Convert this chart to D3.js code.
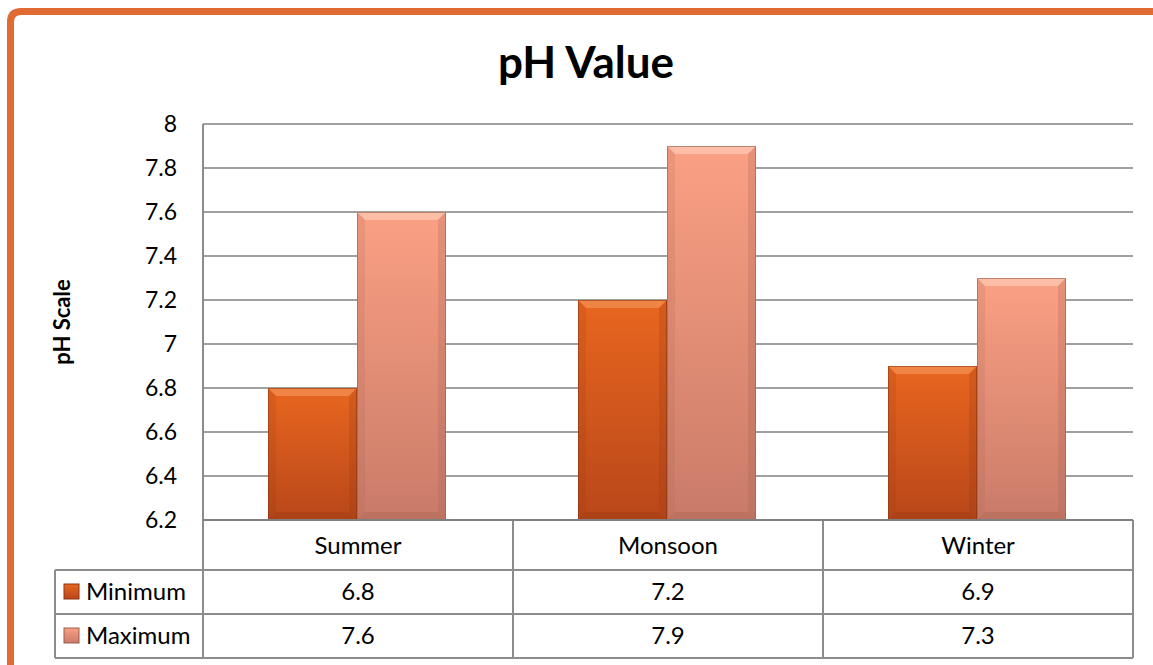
<!DOCTYPE html>
<html>
<head>
<meta charset="utf-8">
<script src="https://cdn.jsdelivr.net/npm/d3@7"></script>
<style>
  body { margin: 0; background: #fff; }
  svg { display: block; font-family: Lato, "Open Sans", sans-serif; }
</style>
</head>
<body>
<svg id="chart" width="1153" height="665"></svg>
<script>
// data
var categories = ["Summer", "Monsoon", "Winter"];
var seriesNames = ["Minimum", "Maximum"];
var minimumValues = [6.8, 7.2, 6.9];
var maximumValues = [7.6, 7.9, 7.3];
var yTicks = [6.2, 6.4, 6.6, 6.8, 7, 7.2, 7.4, 7.6, 7.8, 8];

var values = [minimumValues, maximumValues];

var svg = d3.select("#chart");
var plot = {left: 203, right: 1133, top: 124, bottom: 520};
var rowY = [520, 570, 614, 658];   // table row lines
var tableLeft = 55;

// gradients for the bevelled bars
var defs = svg.append("defs");
var palette = [
  {id: "gMin", top: "#e8661f", bottom: "#b9471a", light: "#f59a5e", dark: "#8f3512"},
  {id: "gMax", top: "#fba084", bottom: "#c97b68", light: "#ffd2c0", dark: "#9c5c4c"}
];
palette.forEach(function(p) {
  var g = defs.append("linearGradient").attr("id", p.id)
    .attr("x1", 0).attr("y1", 0).attr("x2", 0).attr("y2", 1);
  g.append("stop").attr("offset", "0%").attr("stop-color", p.top);
  g.append("stop").attr("offset", "100%").attr("stop-color", p.bottom);
});

// orange frame
svg.append("path")
  .attr("d", "M10.5,665 L10.5,22 Q10.5,11.5 21,11.5 L1153,11.5")
  .attr("fill", "none").attr("stroke", "#e06b35").attr("stroke-width", 7);

// scales
var x0 = d3.scaleBand().domain(categories).range([plot.left, plot.right]);
var x1 = d3.scaleBand().domain(seriesNames).range([65, 243]);
var y = d3.scaleLinear().domain([6.2, 8]).range([plot.bottom, plot.top]);

// gridlines
svg.append("g").selectAll("line").data(yTicks).enter().append("line")
  .attr("x1", plot.left).attr("x2", plot.right)
  .attr("y1", function(d) { return y(d); }).attr("y2", function(d) { return y(d); })
  .attr("stroke", "#a0a0a0").attr("stroke-width", 2);

// y axis
var yAxis = svg.append("g")
  .attr("transform", "translate(" + plot.left + ",0)")
  .call(d3.axisLeft(y).tickValues(yTicks).tickFormat(d3.format("")).tickSize(0).tickPadding(26));
yAxis.select(".domain").remove();
yAxis.selectAll("text").attr("font-size", 23).attr("fill", "#000")
  .attr("font-family", "Lato, 'Open Sans', sans-serif");

// bars
var bev = 8;
var groups = svg.append("g").selectAll("g").data(categories).enter().append("g")
  .attr("transform", function(d) { return "translate(" + x0(d) + ",0)"; });

groups.each(function(cat, ci) {
  var g = d3.select(this);
  seriesNames.forEach(function(s, si) {
    var p = palette[si];
    var bx = x1(s), bw = x1.bandwidth();
    var by = y(values[si][ci]), bh = plot.bottom - by;
    g.append("rect").attr("x", bx).attr("y", by).attr("width", bw).attr("height", bh)
      .attr("fill", "url(#" + p.id + ")");
    // top bevel
    g.append("path")
      .attr("d", "M" + bx + "," + by + "L" + (bx + bw) + "," + by + "L" + (bx + bw - bev) + "," + (by + bev) + "L" + (bx + bev) + "," + (by + bev) + "Z")
      .attr("fill", p.light).attr("opacity", 0.6);
    // sides
    g.append("path")
      .attr("d", "M" + bx + "," + by + "L" + (bx + bev) + "," + (by + bev) + "L" + (bx + bev) + "," + (by + bh - bev) + "L" + bx + "," + (by + bh) + "Z")
      .attr("fill", p.dark).attr("opacity", 0.15);
    g.append("path")
      .attr("d", "M" + (bx + bw) + "," + by + "L" + (bx + bw - bev) + "," + (by + bev) + "L" + (bx + bw - bev) + "," + (by + bh - bev) + "L" + (bx + bw) + "," + (by + bh) + "Z")
      .attr("fill", p.dark).attr("opacity", 0.22);
    // bottom bevel
    g.append("path")
      .attr("d", "M" + bx + "," + (by + bh) + "L" + (bx + bev) + "," + (by + bh - bev) + "L" + (bx + bw - bev) + "," + (by + bh - bev) + "L" + (bx + bw) + "," + (by + bh) + "Z")
      .attr("fill", p.dark).attr("opacity", 0.3);
    g.append("rect").attr("x", bx + 0.5).attr("y", by + 0.5).attr("width", bw - 1).attr("height", bh - 1)
      .attr("fill", "none").attr("stroke", p.dark).attr("stroke-width", 1).attr("opacity", 0.6);
  });
});

// data table
var table = svg.append("g").attr("stroke", "#8c8c8c").attr("stroke-width", 2);
table.append("line").attr("x1", plot.left).attr("x2", plot.left).attr("y1", plot.top).attr("y2", rowY[3]);
categories.forEach(function(c) {
  var xe = x0(c) + x0.bandwidth();
  table.append("line").attr("x1", xe).attr("x2", xe).attr("y1", rowY[0]).attr("y2", rowY[3]);
});
table.append("line").attr("x1", tableLeft).attr("x2", tableLeft).attr("y1", rowY[1]).attr("y2", rowY[3]);
table.append("line").attr("x1", plot.left).attr("x2", plot.right).attr("y1", rowY[0]).attr("y2", rowY[0]).attr("stroke", "#808080");
[1, 2, 3].forEach(function(r) {
  table.append("line").attr("x1", tableLeft).attr("x2", plot.right).attr("y1", rowY[r]).attr("y2", rowY[r]);
});

// category labels
svg.append("g").selectAll("text").data(categories).enter().append("text")
  .attr("x", function(d) { return x0(d) + x0.bandwidth() / 2; })
  .attr("y", 554).attr("text-anchor", "middle").attr("font-size", 24).text(function(d) { return d; });

// value rows
seriesNames.forEach(function(s, si) {
  var ty = (rowY[si + 1] + rowY[si + 2]) / 2 + 8;
  var p = palette[si];
  svg.append("rect").attr("x", 64).attr("y", ty - 16).attr("width", 15).attr("height", 15)
    .attr("fill", "url(#" + p.id + ")").attr("stroke", p.dark).attr("stroke-width", 1);
  svg.append("text").attr("x", 86).attr("y", ty).attr("font-size", 24).text(s);
  svg.append("g").selectAll("text").data(values[si]).enter().append("text")
    .attr("x", function(d, i) { return x0(categories[i]) + x0.bandwidth() / 2; })
    .attr("y", ty).attr("text-anchor", "middle").attr("font-size", 24)
    .text(function(d) { return d; });
});

// titles
svg.append("text").attr("x", 586).attr("y", 78).attr("text-anchor", "middle")
  .attr("font-size", 44).attr("font-weight", "bold").text("pH Value");
svg.append("text").attr("transform", "translate(70,322) rotate(-90)")
  .attr("text-anchor", "middle").attr("font-size", 22).attr("font-weight", "bold").text("pH Scale");
</script>
</body>
</html>
